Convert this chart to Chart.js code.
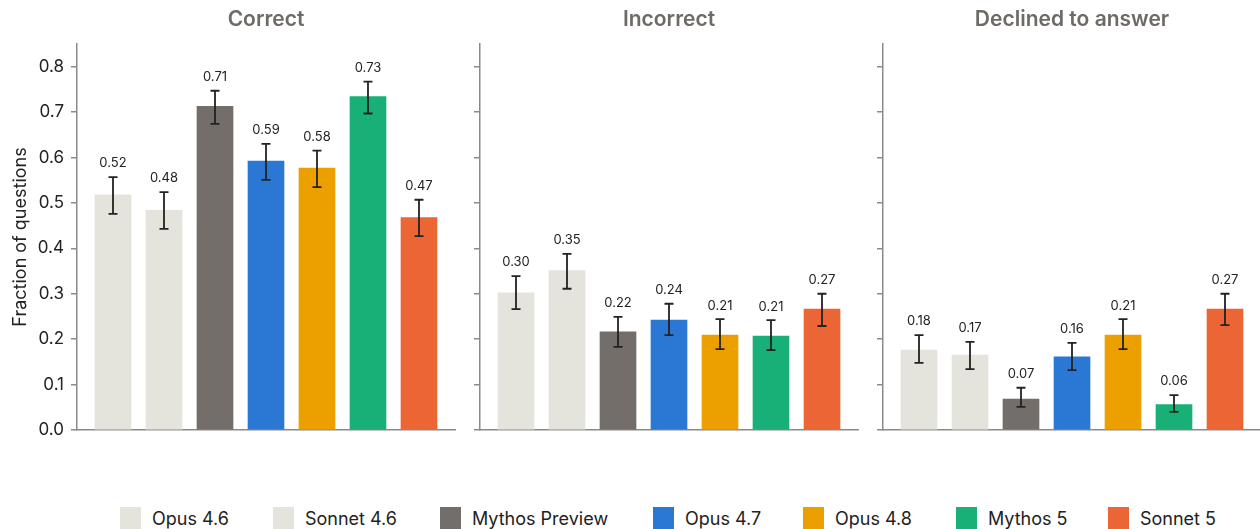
<!DOCTYPE html>
<html>
<head>
<meta charset="utf-8">
<script src="https://cdn.jsdelivr.net/npm/chart.js@4/dist/chart.umd.min.js"></script>
<style>
  html, body { margin: 0; padding: 0; background: #fff; overflow: hidden; }
  body { width: 1260px; height: 529px; position: relative; font-family: Inter, "DejaVu Sans", sans-serif; }
  .panel { position: absolute; top: 0; width: 532px; height: 440px; }
  #legend { position: absolute; top: 507px; left: 0; width: 1260px; height: 22px; }
  .item { position: absolute; top: 0; height: 22px; display: flex; align-items: center; font-size: 18px; color: #222; white-space: nowrap; }
  .box { width: 21px; height: 22px; margin-right: 11px; }
</style>
</head>
<body>
<div class="panel" style="left:0px"><canvas id="c0"></canvas></div>
<div class="panel" style="left:403px"><canvas id="c1"></canvas></div>
<div class="panel" style="left:806px"><canvas id="c2"></canvas></div>
<div id="legend"></div>
<script>
const models = ["Opus 4.6", "Sonnet 4.6", "Mythos Preview", "Opus 4.7", "Opus 4.8", "Mythos 5", "Sonnet 5"];
const colors = ["#e5e4dc", "#e5e4dc", "#736e69", "#2a78d4", "#eca000", "#19b078", "#ec6535"];
const panelTitles = ["Correct", "Incorrect", "Declined to answer"];

const correct   = [0.518, 0.484, 0.713, 0.592, 0.577, 0.734, 0.468];
const correctLo = [0.476, 0.443, 0.674, 0.551, 0.535, 0.697, 0.427];
const correctHi = [0.557, 0.524, 0.747, 0.630, 0.615, 0.767, 0.507];

const incorrect   = [0.302, 0.351, 0.216, 0.242, 0.209, 0.207, 0.266];
const incorrectLo = [0.266, 0.311, 0.183, 0.209, 0.178, 0.176, 0.229];
const incorrectHi = [0.339, 0.388, 0.249, 0.278, 0.244, 0.242, 0.300];

const declined   = [0.176, 0.165, 0.068, 0.161, 0.209, 0.056, 0.266];
const declinedLo = [0.148, 0.134, 0.051, 0.132, 0.178, 0.040, 0.231];
const declinedHi = [0.209, 0.194, 0.093, 0.192, 0.244, 0.077, 0.300];

const yTicks = [0, 0.1, 0.2, 0.3, 0.4, 0.5, 0.6, 0.7, 0.8];

const panels = [
  { vals: correct, lo: correctLo, hi: correctHi },
  { vals: incorrect, lo: incorrectLo, hi: incorrectHi },
  { vals: declined, lo: declinedLo, hi: declinedHi }
];

const FONT = "Inter, 'DejaVu Sans', sans-serif";
const AXIS = "#8a8a8a";

// error bars + value labels drawn from the chart's own scales
const errorBars = {
  id: "errorBars",
  afterDatasetsDraw(chart, args, opts) {
    const { ctx, scales: { x, y } } = chart;
    ctx.save();
    ctx.strokeStyle = "#222";
    ctx.lineWidth = 1.8;
    opts.vals.forEach((v, i) => {
      const px = x.getPixelForValue(i);
      const top = y.getPixelForValue(opts.hi[i]);
      const bot = y.getPixelForValue(opts.lo[i]);
      ctx.beginPath();
      ctx.moveTo(px, top); ctx.lineTo(px, bot);
      ctx.moveTo(px - 4.5, top); ctx.lineTo(px + 4.5, top);
      ctx.moveTo(px - 4.5, bot); ctx.lineTo(px + 4.5, bot);
      ctx.stroke();
      ctx.fillStyle = "#222";
      ctx.font = "13px " + FONT;
      ctx.textAlign = "center";
      ctx.textBaseline = "bottom";
      ctx.fillText(v.toFixed(2), px, top - 7);
    });
    ctx.restore();
  }
};

panels.forEach((p, k) => {
  new Chart(document.getElementById("c" + k), {
    type: "bar",
    data: {
      datasets: [{
        data: p.vals.map((v, i) => ({ x: i, y: v })),
        backgroundColor: colors,
        barThickness: 36
      }]
    },
    options: {
      responsive: true,
      maintainAspectRatio: false,
      animation: false,
      layout: { autoPadding: false, padding: 0 },
      plugins: {
        legend: { display: false },
        tooltip: { enabled: false },
        title: {
          display: true,
          text: panelTitles[k],
          color: "#6e6a66",
          font: { family: FONT, size: 21, weight: "600", lineHeight: 1.2 },
          padding: { top: 7, bottom: 11.8 }
        },
        errorBars: p
      },
      scales: {
        x: {
          type: "linear",
          offset: false,
          min: -0.706,
          max: 6.706,
          ticks: { display: false },
          grid: { display: false, offset: false },
          border: { display: true, color: AXIS, width: 1.5 },
          afterFit: s => { s.height = 10; }
        },
        y: {
          min: 0,
          max: 0.85,
          afterBuildTicks: s => { s.ticks = yTicks.map(v => ({ value: v })); },
          ticks: {
            display: k === 0,
            color: "#222",
            font: { family: FONT, size: 17, lineHeight: 0.9 },
            padding: 7,
            callback: v => v.toFixed(1)
          },
          grid: { drawOnChartArea: false, drawTicks: true, tickLength: 6, color: AXIS, lineWidth: 1.5 },
          border: { display: true, color: AXIS, width: 1.5 },
          title: {
            display: k === 0,
            text: "Fraction of questions",
            color: "#222",
            font: { family: FONT, size: 18 },
            padding: { top: 10, bottom: 0 }
          },
          afterFit: s => { s.width = 77; s.paddingTop = 0; s.paddingBottom = 0; }
        },
        // empty right-hand axis keeps the plot the same width as the left axis
        yRight: {
          position: "right",
          display: true,
          ticks: { display: false },
          grid: { display: false },
          border: { display: false },
          afterFit: s => { s.width = 77; }
        }
      }
    },
    plugins: [errorBars]
  });
});

// legend
const legendX = [120, 273, 440, 653, 803, 956, 1108];
const legend = document.getElementById("legend");
models.forEach((m, i) => {
  const el = document.createElement("div");
  el.className = "item";
  el.style.left = legendX[i] + "px";
  el.innerHTML = '<span class="box" style="background:' + colors[i] + '"></span><span>' + m + '</span>';
  legend.appendChild(el);
});
</script>
</body>
</html>
